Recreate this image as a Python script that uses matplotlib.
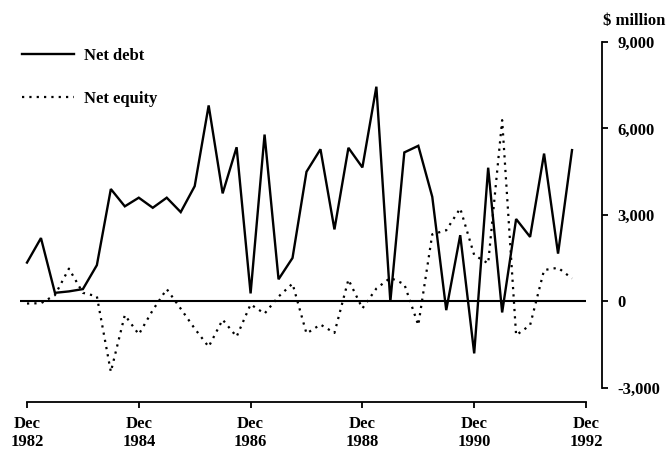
import matplotlib
matplotlib.use("Agg")
import matplotlib.pyplot as plt
import numpy as np

# quarterly values, Dec 1982 .. Sep 1992 ($ million)
net_debt = [1350, 2200, 300, 350, 430, 1260, 3900, 3300, 3600, 3250,
            3600, 3100, 4000, 6800, 3750, 5350, 280, 5790, 770, 1510,
            4500, 5280, 2500, 5330, 4650, 7450, 0, 5170, 5400, 3630,
            -300, 2300, -1800, 4640, -380, 2860, 2240, 5130, 1660, 5250]
net_equity = [-70, -60, 220, 1140, 300, 180, -2440, -470, -1140, -300,
              430, -250, -940, -1570, -630, -1220, -100, -420, 170, 620,
              -1110, -800, -1090, 760, -240, 450, 820, 600, -820, 2330,
              2470, 3230, 1610, 1320, 6290, -1170, -820, 1090, 1170, 800]

x_ticks = [0, 8, 16, 24, 32, 40]
x_labels = ["Dec\n1982", "Dec\n1984", "Dec\n1986", "Dec\n1988", "Dec\n1990", "Dec\n1992"]
y_ticks = [-3000, 0, 3000, 6000, 9000]
y_labels = ["-3,000", "0", "3,000", "6,000", "9,000"]

plt.rcParams["font.family"] = "Liberation Serif"
plt.rcParams["font.weight"] = "bold"
plt.rcParams["font.size"] = 12

W, H = 672, 450
figure = plt.figure(figsize=(W / 100, H / 100), dpi=100)
axis = figure.add_axes([20 / W, 1 - 402 / H, 566 / W, 360 / H])

quarters = np.arange(len(net_debt))
axis.plot(quarters, net_debt, c="black", lw=1.7, label="Net debt",
          solid_joinstyle="miter")
axis.plot(quarters, net_equity, c="black", lw=1.6, linestyle=(0, (1, 2.3)),
          label="Net equity")
axis.axhline(0, c="black", lw=1.5)

axis.set_xlim(-0.5, 40)
axis.set_ylim(-3486, 9000)

for side in ("left", "top"):
    axis.spines[side].set_visible(False)
axis.spines["bottom"].set_bounds(0, 40)
axis.spines["bottom"].set_linewidth(1.3)
axis.spines["right"].set_position(("outward", 11.5))
axis.spines["right"].set_bounds(-3000, 9000)
axis.spines["right"].set_linewidth(1.3)

axis.set_xticks(x_ticks)
axis.set_xticklabels(x_labels, linespacing=1.18)
axis.tick_params(axis="x", direction="out", length=4, width=1.3, pad=6)
axis.yaxis.tick_right()
axis.set_yticks(y_ticks)
axis.set_yticklabels(y_labels)
axis.tick_params(axis="y", direction="out", length=4, width=1.3, pad=7)

axis.legend(loc="upper left", bbox_to_anchor=(22 / W, 1 - 48 / H),
            bbox_transform=figure.transFigure, frameon=False,
            handlelength=3.1, handletextpad=0.6, labelspacing=1.6,
            borderaxespad=0, borderpad=0)

figure.text(603 / W, 1 - 21 / H, "$ million", ha="left", va="center",
            fontsize=12, fontweight="bold")

figure.savefig("out.png", dpi=100)
